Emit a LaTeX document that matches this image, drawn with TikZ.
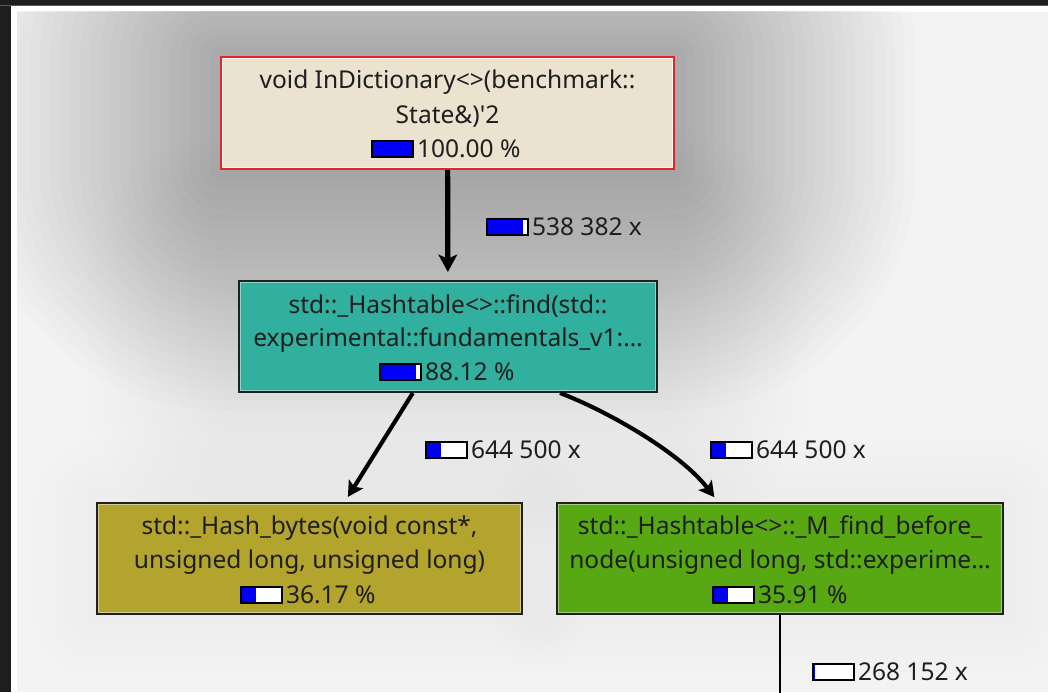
\documentclass[tikz,border=0pt]{standalone}
\usepackage{fontspec}
\setmainfont{Noto Sans}
\usetikzlibrary{arrows.meta,calc,backgrounds}

\definecolor{frame}{HTML}{1E1E1E}
\definecolor{frameline}{HTML}{5A5A5A}
\definecolor{canvas}{HTML}{F3F3F3}
\definecolor{ink}{HTML}{1E1E1E}
\definecolor{cgbeige}{HTML}{EBE3CF}
\definecolor{cgteal}{HTML}{31AF9F}
\definecolor{cgolive}{HTML}{B2A42C}
\definecolor{cggreen}{HTML}{58A814}
\definecolor{cgred}{HTML}{E22626}
\definecolor{cgedge}{HTML}{202020}
\definecolor{barblue}{HTML}{0000F6}

\tikzset{
  fn/.style={font=\fontsize{18.4}{22}\selectfont, text=ink, inner sep=0pt, outer sep=0pt},
  cgbox/.style={draw=cgedge, line width=1.5pt, inner sep=0pt},
  glint/.style={draw=white, draw opacity=0.45, line width=0.8pt},
  barframe/.style={draw=black, line width=0.9pt},
  callbig/.style={draw=black, line width=3.9pt, shorten >=6pt,
    -{Stealth[length=13pt,width=14pt,inset=3pt]}},
  callsmall/.style={draw=black, line width=3.1pt, shorten >=4.5pt,
    -{Stealth[length=11.5pt,width=12.5pt,inset=2.5pt]}},
  callthin/.style={draw=black, line width=1.6pt},
}

% cost meter: name, left x, baseline y, filled fraction, caption
\newcommand\cgmeter[5]{%
  \fill[white] (#2,#3-16) rectangle (#2+41,#3);
  \fill[barblue] (#2,#3-16) rectangle (#2+41*#4,#3);
  \draw[barframe] (#2,#3-16) rectangle (#2+41,#3);
  \node[fn, anchor=base west] (#1) at (#2+45,#3) {#5};
}

% soft halo around a node: name, number of rings, ring step, opacity per ring
\newcommand\cghalo[4]{%
  \foreach \r in {1,...,#2} {
    \pgfmathsetmacro\rc{\r*#3*0.75}
    \fill[black, fill opacity=#4, rounded corners=\rc pt]
      ($(#1.north west)+(-\r*#3,-\r*#3)$) rectangle ($(#1.south east)+(\r*#3,\r*#3)$);
  }%
}

\begin{document}
\begin{tikzpicture}[x=0.75pt, y=-0.75pt]
\useasboundingbox (0,0) rectangle (1048,692);

% function boxes
\node[cgbox, draw=cgred, fill=cgbeige, minimum width=339.75pt, minimum height=84pt]
  (top) at (447.5,113) {};
\node[cgbox, fill=cgteal, minimum width=313.5pt, minimum height=83.25pt]
  (find) at (448,336.5) {};
\node[cgbox, fill=cgolive, minimum width=318.75pt, minimum height=83.25pt]
  (hash) at (309.5,558.5) {};
\node[cgbox, fill=cggreen, minimum width=334.5pt, minimum height=83.25pt]
  (before) at (780,558.5) {};

% inner bevel lines
\draw[draw=white, draw opacity=0.8, line width=0.8pt]
  ($(top.north west)+(2.5,2.5)$) rectangle ($(top.south east)+(-2.5,-2.5)$);
\foreach \n in {find,hash,before}
  \draw[glint] ($(\n.north west)+(2.5,2.5)$) rectangle ($(\n.south east)+(-2.5,-2.5)$);

% box texts
\node[fn, anchor=base] (top-a) at (447.5,89) {void InDictionary<>(benchmark::};
\node[fn, anchor=base] (top-b) at (447.5,123) {State\&)\textquotesingle 2};
\cgmeter{top-c}{372}{157}{1}{100.00 \%}

\node[fn, anchor=base] (find-a) at (448,313) {std::\_Hashtable<>::find(std::};
\node[fn, anchor=base] (find-b) at (448,346) {experimental::fundamentals\_v1:…};
\cgmeter{find-c}{380}{380}{0.875}{88.12 \%}

\node[fn, anchor=base] (hash-a) at (309.5,534) {std::\_Hash\_bytes(void const*,};
\node[fn, anchor=base] (hash-b) at (309.5,568) {unsigned long, unsigned long)};
\cgmeter{hash-c}{241}{603}{0.36}{36.17 \%}

\node[fn, anchor=base] (before-a) at (780,534) {std::\_Hashtable<>::\_M\_find\_before\_};
\node[fn, anchor=base] (before-b) at (780,568) {node(unsigned long, std::experime…};
\cgmeter{before-c}{713}{603}{0.36}{35.91 \%}

% calls
\coordinate (below) at (780,710);
\draw[callbig] (top) -- (find);
\draw[callsmall] (find) -- (hash);
\draw[callsmall] ($(find.south)+(112,0)$)
  .. controls (605,410) and (680,452) .. ($(before.north)+(-62,0)$);
\draw[callthin] (before.south) -- (below);

% call counts
\cgmeter{c-find}{487}{235}{0.88}{538 382 x}
\cgmeter{c-hash}{426}{458}{0.36}{644 500 x}
\cgmeter{c-before}{711}{458}{0.36}{644 500 x}
\cgmeter{c-next}{813}{680}{0.05}{268 152 x}

% window frame, canvas and halos
\begin{scope}[on background layer]
  \fill[frame] (0,0) rectangle (1048,692);
  \draw[frameline, line width=0.75pt] (0,5.5) -- (1048,5.5);
  \fill[white] (11,6) rectangle (1048,692);
  \fill[canvas] (17,12) rectangle (1048,692);
  \begin{scope}
    \clip (17,12) rectangle (1048,692);
    \cghalo{top}{24}{10}{0.011}
    \cghalo{find}{15}{10}{0.005}
    \cghalo{hash}{6}{10}{0.005}
    \cghalo{before}{6}{10}{0.005}
  \end{scope}
\end{scope}
\end{tikzpicture}
\end{document}
